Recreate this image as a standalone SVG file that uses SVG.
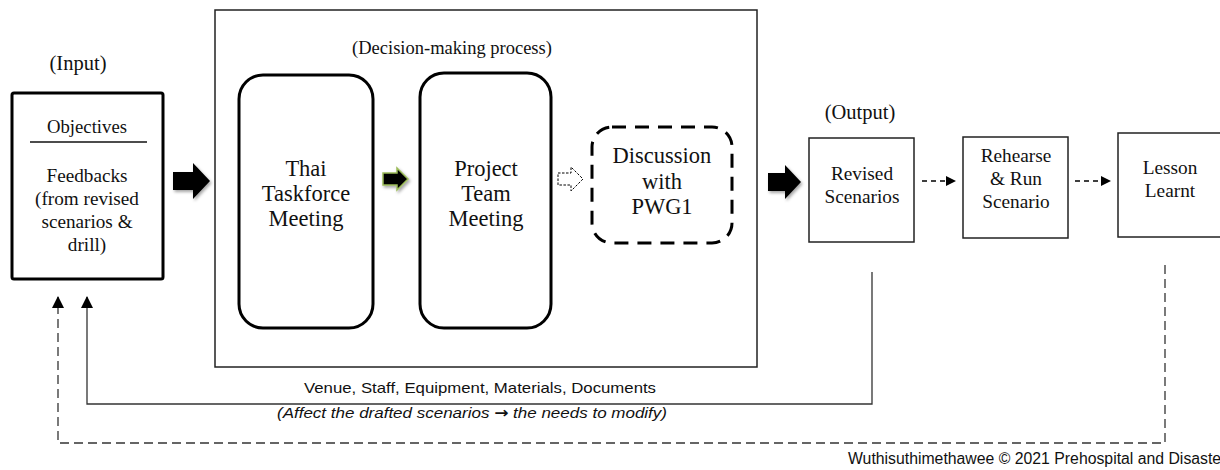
<svg xmlns="http://www.w3.org/2000/svg" width="1220" height="470" viewBox="0 0 1220 470">
<style>
.t{font-family:"Liberation Serif","Times New Roman",serif;fill:#111;text-anchor:middle}
.s19{font-size:19.3px}
.s22{font-size:22.5px}
.thick{fill:#fff;stroke:#000;stroke-width:3}
.thin{fill:#fff;stroke:#222;stroke-width:1.5}
.cal{font-family:"Liberation Sans",Arial,sans-serif;font-size:15px;fill:#111}
.conn{fill:none;stroke:#333;stroke-width:1.3}
.dash{stroke-dasharray:9,5}
.sdash{fill:none;stroke:#000;stroke-width:1.5;stroke-dasharray:5,4}
</style>
<defs>
<marker id="ah" markerWidth="10" markerHeight="10" refX="9" refY="5" orient="auto" markerUnits="userSpaceOnUse">
<path d="M0,0 L10,5 L0,10 Z" fill="#000"/>
</marker>
<marker id="ah2" markerWidth="12" markerHeight="12" refX="11" refY="6" orient="auto" markerUnits="userSpaceOnUse">
<path d="M0,0 L12,6 L0,12 Z" fill="#000"/>
</marker>
<filter id="sh" x="-30%" y="-30%" width="160%" height="160%">
<feDropShadow dx="1.5" dy="2" stdDeviation="1.5" flood-color="#000" flood-opacity="0.35"/>
</filter>
</defs>
<rect width="1220" height="470" fill="#fff"/>

<g id="process">
<rect x="215" y="10" width="542" height="357" class="thin"/>
<text x="452" y="54" class="t" style="font-size:18.5px">(Decision-making process)</text>
</g>

<g id="input">
<text x="78" y="70" class="t" style="font-size:20.5px">(Input)</text>
<rect x="12" y="93" width="151" height="186" rx="2" class="thick"/>
<text x="87" y="133" class="t" style="font-size:18.7px">Objectives</text>
<line x1="30" y1="142" x2="147" y2="142" stroke="#111" stroke-width="1.3"/>
<text class="t" style="font-size:19.2px"><tspan x="87" y="182">Feedbacks</tspan><tspan x="87" y="205">(from revised</tspan><tspan x="87" y="228">scenarios &amp;</tspan><tspan x="87" y="251">drill)</tspan></text>
</g>

<g id="thai">
<rect x="239" y="75" width="134" height="253" rx="24" class="thick"/>
<text class="t s22"><tspan x="306" y="176">Thai</tspan><tspan x="306" y="201">Taskforce</tspan><tspan x="306" y="226">Meeting</tspan></text>
</g>

<g id="project">
<rect x="420" y="73" width="131" height="255" rx="24" class="thick"/>
<text class="t s22"><tspan x="486" y="176">Project</tspan><tspan x="486" y="201">Team</tspan><tspan x="486" y="226">Meeting</tspan></text>
</g>

<g id="discussion">
<rect x="592" y="127" width="140" height="116" rx="20" fill="#fff" stroke="#000" stroke-width="3" stroke-dasharray="14,9"/>
<text class="t s22"><tspan x="662" y="163">Discussion</tspan><tspan x="662" y="189">with</tspan><tspan x="662" y="214">PWG1</tspan></text>
</g>

<g id="output">
<text x="860" y="119" class="t" style="font-size:20.5px">(Output)</text>
<rect x="809" y="138" width="105" height="104" class="thin"/>
<text class="t s19"><tspan x="862" y="180">Revised</tspan><tspan x="862" y="203">Scenarios</tspan></text>
</g>

<g id="rehearse">
<rect x="963" y="137" width="105" height="101" class="thin"/>
<text class="t s19"><tspan x="1016" y="162">Rehearse</tspan><tspan x="1016" y="185">&amp; Run</tspan><tspan x="1016" y="208">Scenario</tspan></text>
</g>

<g id="lesson">
<rect x="1118" y="133" width="110" height="104" class="thin"/>
<text class="t s19"><tspan x="1170" y="174">Lesson</tspan><tspan x="1170" y="197">Learnt</tspan></text>
</g>

<g id="connectors">
<path d="M173,172 H193 V163 L210,181 L193,199 V190 H173 Z" fill="#000" filter="url(#sh)"/>
<path d="M383,173 H397 V168 L408,179 L397,190 V185 H383 Z" fill="#000" stroke="#9bbb59" stroke-width="1.5" filter="url(#sh)"/>
<path d="M558,173 H571 V167 L583,179 L571,191 V185 H558 Z" fill="#fff" stroke="#000" stroke-width="1" stroke-dasharray="2.5,1.5"/>
<path d="M768,173 H785 V165 L801,182 L785,199 V191 H768 Z" fill="#000" filter="url(#sh)"/>
<line x1="922" y1="181" x2="955" y2="181" class="sdash" marker-end="url(#ah)"/>
<line x1="1075" y1="181" x2="1110" y2="181" class="sdash" marker-end="url(#ah)"/>
<path d="M872,272 V404 H87 V297" class="conn" marker-end="url(#ah2)"/>
<path d="M1165,265 V443 H58 V297" class="conn dash" marker-end="url(#ah2)"/>
<text x="480" y="393" class="cal" text-anchor="middle" textLength="352" lengthAdjust="spacingAndGlyphs">Venue, Staff, Equipment, Materials, Documents</text>
<text x="472" y="418" class="cal" text-anchor="middle" font-style="italic" textLength="390" lengthAdjust="spacingAndGlyphs">(Affect the drafted scenarios <tspan font-family="DejaVu Sans,sans-serif" font-weight="bold" font-style="normal">→</tspan> the needs to modify)</text>
</g>

<text x="848" y="464" style="font-family:'Liberation Sans',Arial,sans-serif;font-size:15.8px;fill:#111">Wuthisuthimethawee © 2021 Prehospital and Disaster</text>
</svg>
